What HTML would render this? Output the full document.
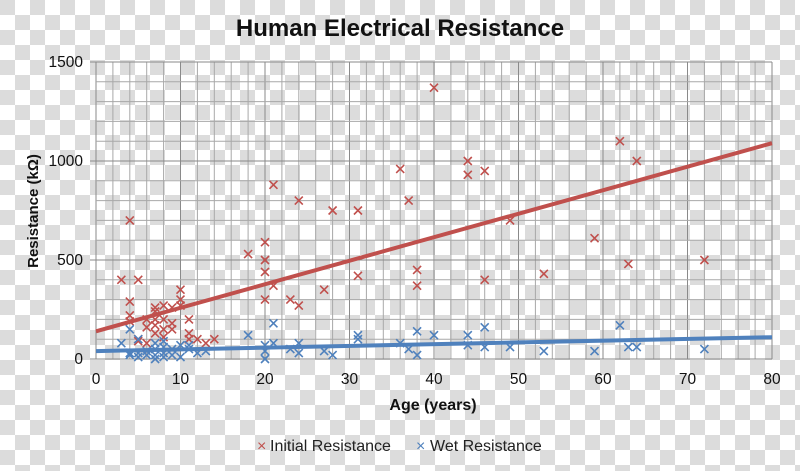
<!DOCTYPE html>
<html><head><meta charset="utf-8"><style>
html,body{margin:0;padding:0;}
body{width:800px;height:471px;overflow:hidden;
background-color:#fff;
background-image:
 linear-gradient(45deg,#dcdcdc 25%,transparent 25%,transparent 75%,#dcdcdc 75%),
 linear-gradient(45deg,#dcdcdc 25%,transparent 25%,transparent 75%,#dcdcdc 75%);
background-size:30px 30px;background-position:15px 0,0 15px;}
svg{position:absolute;left:0;top:0;font-family:"Liberation Sans",Arial,sans-serif;}
</style></head><body>
<svg id="s" width="800" height="471" xmlns="http://www.w3.org/2000/svg">
<text x="400" y="36" text-anchor="middle" font-size="24" font-weight="bold" fill="#111">Human Electrical Resistance</text>
<g id="grid"></g>
<g id="pts"></g>
<text x="433" y="410" text-anchor="middle" font-size="16" font-weight="bold" fill="#111">Age (years)</text>
<text transform="translate(38,211) rotate(-90)" text-anchor="middle" font-size="15" font-weight="bold" fill="#111">Resistance (kΩ)</text>
<text x="257" y="451" font-size="16" fill="#c0504d">×</text>
<text x="270" y="451" font-size="16" fill="#222">Initial Resistance</text>
<text x="416" y="451" font-size="16" fill="#4f81bd">×</text>
<text x="430" y="451" font-size="16" fill="#222">Wet Resistance</text>
</svg>
<script>
var X0=96,XS=(772-96)/80,Y0=359,YS=(359-62)/1500;
function px(a){return X0+a*XS} function py(v){return Y0-v*YS}
var g='';
for(var a=0;a<=80;a+=2){g+='<line x1="'+px(a)+'" y1="62" x2="'+px(a)+'" y2="359" stroke="'+(a%10?'#a8a8a8':'#8a8a8a')+'" stroke-width="1"/>';}
for(var v=0;v<=1500;v+=100){g+='<line x1="'+(v%500?96:90)+'" y1="'+py(v)+'" x2="772" y2="'+py(v)+'" stroke="'+(v%500?'#a8a8a8':'#8a8a8a')+'" stroke-width="1"/>';}
for(var a=0;a<=80;a+=10){g+='<text x="'+px(a)+'" y="384" text-anchor="middle" font-size="15.5" fill="#111">'+a+'</text>';}
for(var v=0;v<=1500;v+=500){g+='<text x="83" y="'+(py(v)+5)+'" text-anchor="end" font-size="15.5" fill="#111">'+v+'</text>';}
document.getElementById('grid').innerHTML=g;
var R=[[3,400],[4,700],[4,290],[4,220],[4,190],[5,400],[5,100],[5,90],[6,200],[6,160],[6,80],[7,260],[7,240],[7,200],[7,170],[7,130],[8,270],[8,200],[8,150],[8,110],[9,260],[9,180],[9,150],[10,350],[10,300],[10,270],[11,200],[11,130],[11,100],[12,100],[13,80],[14,100],[18,530],[20,590],[20,500],[20,440],[20,300],[21,880],[21,370],[23,300],[24,800],[24,270],[27,350],[28,750],[31,750],[31,420],[36,960],[37,800],[38,450],[38,370],[40,1370],[44,1000],[44,930],[46,950],[46,400],[49,700],[53,430],[59,610],[62,1100],[63,480],[64,1000],[72,500]];
var B=[[3,80],[4,150],[4,30],[4,20],[5,100],[5,30],[5,10],[6,40],[6,20],[7,80],[7,50],[7,20],[7,0],[8,90],[8,60],[8,30],[8,10],[9,50],[9,20],[10,70],[10,10],[11,70],[11,50],[12,30],[13,40],[18,120],[20,70],[20,40],[20,0],[21,180],[21,80],[23,50],[24,80],[24,30],[27,40],[28,20],[31,120],[31,100],[36,80],[37,50],[38,140],[38,20],[40,120],[44,120],[44,70],[46,160],[46,60],[49,60],[53,40],[59,40],[62,170],[63,60],[64,60],[72,50]];
var p='';
function mk(d,c){d.forEach(function(q){var x=px(q[0]),y=py(q[1]),r=4;p+='<path d="M'+(x-r)+' '+(y-r)+'L'+(x+r)+' '+(y+r)+'M'+(x-r)+' '+(y+r)+'L'+(x+r)+' '+(y-r)+'" stroke="'+c+'" stroke-width="1.6"/>';});}
mk(R,'#c0504d');mk(B,'#4f81bd');
p+='<line x1="96" y1="'+py(140)+'" x2="772" y2="'+py(1090)+'" stroke="#c0504d" stroke-width="4"/>';
p+='<line x1="96" y1="'+py(40)+'" x2="772" y2="'+py(110)+'" stroke="#4f81bd" stroke-width="4"/>';
document.getElementById('pts').innerHTML=p;
</script>
</body></html>
